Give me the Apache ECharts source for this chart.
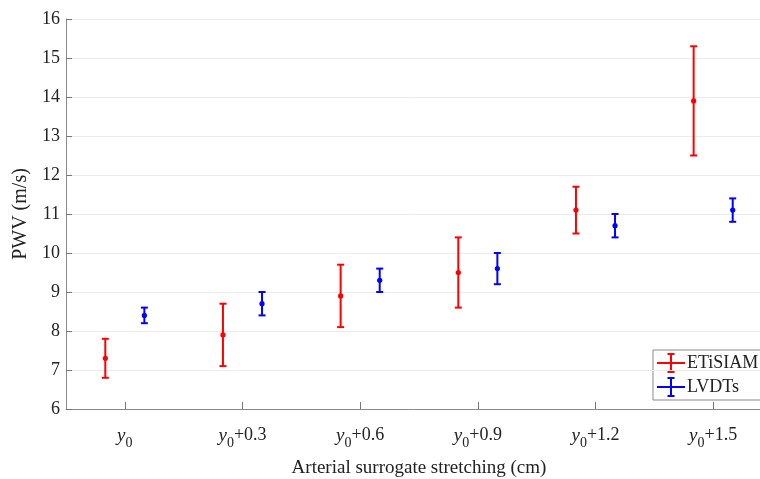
<!DOCTYPE html>
<html>
<head>
<meta charset="utf-8">
<script src="https://cdn.jsdelivr.net/npm/echarts@6/dist/echarts.min.js"></script>
<style>html,body{margin:0;padding:0;background:#fff;overflow:hidden}#c{width:760px;height:479px}</style>
</head>
<body>
<div id="c"></div>
<script>
const categories = ['y0', 'y0+0.3', 'y0+0.6', 'y0+0.9', 'y0+1.2', 'y0+1.5'];
const tickSuffixes = ['', '+0.3', '+0.6', '+0.9', '+1.2', '+1.5'];
const etisiamMean = [7.3, 7.9, 8.9, 9.5, 11.1, 13.9];
const etisiamLow  = [6.8, 7.1, 8.1, 8.6, 10.5, 12.5];
const etisiamHigh = [7.8, 8.7, 9.7, 10.4, 11.7, 15.3];
const lvdtMean = [8.4, 8.7, 9.3, 9.6, 10.7, 11.1];
const lvdtLow  = [8.2, 8.4, 9.0, 9.2, 10.4, 10.8];
const lvdtHigh = [8.6, 9.0, 9.6, 10.0, 11.0, 11.4];
const yTicks = [6, 7, 8, 9, 10, 11, 12, 13, 14, 15, 16];

const FONT = '"Liberation Serif", "DejaVu Serif", serif';

function buildData(mean, low, high) {
  return mean.map((m, i) => [i, m, low[i], high[i]]);
}

function makeRender(offset, color) {
  return function (params, api) {
    const cat = api.value(0);
    const bw = api.size([1, 0])[0];
    const pm = api.coord([cat, api.value(1)]);
    const pl = api.coord([cat, api.value(2)]);
    const ph = api.coord([cat, api.value(3)]);
    const x = pm[0] + offset * bw;
    const cap = 3.5;
    const st = { stroke: color, lineWidth: 2 };
    return {
      type: 'group',
      children: [
        { type: 'line', shape: { x1: x, y1: pl[1], x2: x, y2: ph[1] }, style: st },
        { type: 'line', shape: { x1: x - cap, y1: pl[1], x2: x + cap, y2: pl[1] }, style: st },
        { type: 'line', shape: { x1: x - cap, y1: ph[1], x2: x + cap, y2: ph[1] }, style: st },
        { type: 'circle', shape: { cx: x, cy: pm[1], r: 2.6 }, style: { fill: color } }
      ]
    };
  };
}

const chart = echarts.init(document.getElementById('c'), null, { renderer: 'canvas' });

const legendX = 653, legendY = 350;
function legendIcon(cy, color) {
  const cx = legendX + 18;
  const st = { stroke: color, lineWidth: 2 };
  return [
    { type: 'line', shape: { x1: legendX + 4, y1: cy, x2: legendX + 32, y2: cy }, style: st },
    { type: 'line', shape: { x1: cx, y1: cy - 9, x2: cx, y2: cy + 9 }, style: st },
    { type: 'line', shape: { x1: cx - 3.5, y1: cy - 9, x2: cx + 3.5, y2: cy - 9 }, style: st },
    { type: 'line', shape: { x1: cx - 3.5, y1: cy + 9, x2: cx + 3.5, y2: cy + 9 }, style: st }
  ];
}

chart.setOption({
  animation: false,
  backgroundColor: '#fff',
  grid: { left: 66, top: 19, height: 390, width: 706, containLabel: false, outerBoundsMode: 'none' },
  xAxis: {
    type: 'category',
    data: categories,
    boundaryGap: true,
    name: 'Arterial surrogate stretching (cm)',
    nameLocation: 'middle',
    nameGap: 50,
    nameTextStyle: { fontFamily: FONT, fontSize: 19, color: '#222' },
    axisLine: { lineStyle: { color: '#8a8a8a', width: 1 } },
    axisTick: { show: true, inside: true, alignWithLabel: true, length: 7, lineStyle: { color: '#777', width: 1 } },
    axisLabel: {
      margin: 12,
      formatter: function (v, i) {
        const s = tickSuffixes[i];
        return '{i|y}{s|0}' + (s ? '{n|' + s + '}' : '');
      },
      rich: {
        i: { fontFamily: FONT, fontStyle: 'italic', fontSize: 19, color: '#222', verticalAlign: 'middle' },
        s: { fontFamily: FONT, fontSize: 14, color: '#222', padding: [15, 0, 0, 0], verticalAlign: 'middle' },
        n: { fontFamily: FONT, fontSize: 18, color: '#222', verticalAlign: 'middle' }
      }
    },
    splitLine: { show: false }
  },
  yAxis: {
    type: 'value',
    min: 6,
    max: 16,
    interval: 1,
    name: 'PWV (m/s)',
    nameLocation: 'middle',
    nameGap: 33,
    nameTextStyle: { fontFamily: FONT, fontSize: 20, color: '#222' },
    axisLine: { show: true, lineStyle: { color: '#8a8a8a', width: 1 } },
    axisTick: { show: true, inside: true, length: 6, lineStyle: { color: '#777' } },
    axisLabel: {
      margin: 6,
      fontFamily: FONT, fontSize: 18, color: '#222',
      formatter: function (v) { return yTicks.indexOf(v) >= 0 ? String(v) : ''; }
    },
    splitLine: { show: true, lineStyle: { color: '#ebebeb', width: 1 } }
  },
  series: [
    {
      name: 'ETiSIAM',
      type: 'custom',
      renderItem: makeRender(-0.166, '#ff0000'),
      data: buildData(etisiamMean, etisiamLow, etisiamHigh),
      encode: { x: 0, y: [1, 2, 3] },
      clip: false,
      z: 3
    },
    {
      name: 'LVDTs',
      type: 'custom',
      renderItem: makeRender(0.166, '#0000ff'),
      data: buildData(lvdtMean, lvdtLow, lvdtHigh),
      encode: { x: 0, y: [1, 2, 3] },
      clip: false,
      z: 3
    }
  ],
  graphic: [
    {
      type: 'group',
      z: 10,
      children: [
        { type: 'rect', shape: { x: legendX, y: legendY, width: 130, height: 50 }, style: { fill: '#fff', stroke: '#8a8a8a', lineWidth: 1 } },
        ...legendIcon(legendY + 13, '#ff0000'),
        ...legendIcon(legendY + 37, '#0000ff'),
        { type: 'text', x: legendX + 34, y: legendY + 13, style: { text: 'ETiSIAM', font: '18px ' + FONT, fill: '#222', verticalAlign: 'middle' } },
        { type: 'text', x: legendX + 34, y: legendY + 37, style: { text: 'LVDTs', font: '18px ' + FONT, fill: '#222', verticalAlign: 'middle' } }
      ]
    }
  ]
});
</script>
</body>
</html>
